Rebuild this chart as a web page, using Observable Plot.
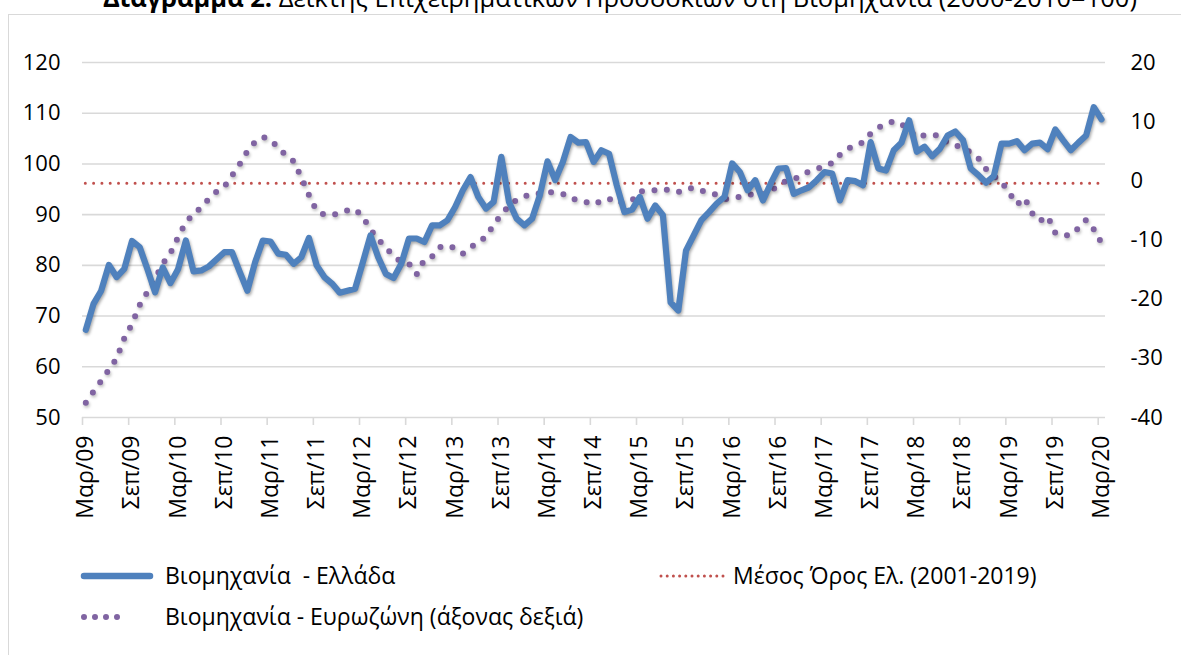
<!DOCTYPE html>
<html>
<head>
<meta charset="utf-8">
<script src="https://cdn.jsdelivr.net/npm/d3@7"></script>
<script src="https://cdn.jsdelivr.net/npm/@observablehq/plot@0.6"></script>
<style>
  html, body { margin: 0; padding: 0; background: #fff; }
  body { width: 1181px; height: 655px; overflow: hidden; position: relative; font-family: "Open Sans", sans-serif; }
  #frame { position: absolute; left: 8px; top: 14px; width: 1200px; height: 700px; border: 1px solid #D9D9D9; box-sizing: border-box; }
  #title { position: absolute; top: -20px; left: 0; width: 1240px; text-align: center; font-size: 25.5px; white-space: nowrap; color: #000; font-family: "Open Sans", sans-serif; }
  #chart { position: absolute; left: 0; top: 0; }
  g[stroke="#4F81BD"] { filter: drop-shadow(1px 2px 1.5px rgba(0,0,0,0.35)); }
  g[stroke="#8064A2"] { filter: drop-shadow(1px 2px 1.5px rgba(0,0,0,0.25)); }
  .leg { position: absolute; font-size: 23px; color: #000; white-space: nowrap; font-family: "Open Sans", sans-serif; }
  .sw { position: absolute; }
</style>
</head>
<body>
<div id="frame"></div>
<div id="title"><b>Διάγραμμα 2:</b> Δείκτης Επιχειρηματικών Προσδοκιών στη Βιομηχανία (2000-2010=100)</div>
<div id="chart"></div>

<svg class="sw" style="left:78px;top:566px" width="80" height="20"><line x1="6" y1="10" x2="72" y2="10" stroke="#4F81BD" stroke-width="6.5" stroke-linecap="round"/></svg>
<div class="leg" style="left:165px;top:559px">Βιομηχανία&nbsp; - Ελλάδα</div>
<svg class="sw" style="left:655px;top:566px" width="80" height="20"><line x1="6" y1="10" x2="68" y2="10" stroke="#C0504D" stroke-width="3" stroke-dasharray="0 6.2" stroke-linecap="round"/></svg>
<div class="leg" style="left:733px;top:559px">Μέσος Όρος Ελ. (2001-2019)</div>
<svg class="sw" style="left:76px;top:607px" width="80" height="20"><line x1="8" y1="10" x2="52" y2="10" stroke="#8064A2" stroke-width="6" stroke-dasharray="0 11" stroke-linecap="round"/></svg>
<div class="leg" style="left:165px;top:600px">Βιομηχανία - Ευρωζώνη (άξονας δεξιά)</div>

<script>
// Monthly data, Mar/2009 .. Mar/2020 (133 months)
const greece = [
  67.3,72.4,75.0,80.1,77.7,79.3,84.8,83.6,79.3,74.7,
  79.6,76.5,79.3,84.9,78.8,79.0,79.8,81.2,82.6,82.6,
  78.7,75.0,80.6,84.9,84.7,82.3,82.1,80.3,81.6,85.4,
  80.0,77.7,76.4,74.6,75.0,75.4,80.6,85.9,81.6,78.3,
  77.5,80.3,85.3,85.3,84.6,87.9,87.9,88.9,91.5,94.8,
  97.4,93.5,91.2,92.5,101.4,92.5,89.2,87.9,89.2,93.8,
  100.5,96.8,100.4,105.3,104.2,104.3,100.4,102.7,102.0,95.8,
  90.5,91.0,93.5,89.2,91.8,89.9,72.7,71.1,82.9,85.9,
  88.9,90.5,92.2,93.5,100.1,98.4,94.8,96.8,92.8,96.1,
  99.1,99.2,94.1,94.8,95.4,96.8,98.4,98.1,92.8,96.8,
  96.6,95.8,104.3,99.1,98.7,102.7,104.2,108.6,102.4,103.4,
  101.5,103.0,105.6,106.4,104.7,99.1,97.8,96.3,97.6,104.0,
  104.0,104.5,102.7,104.0,104.2,102.9,106.8,104.7,102.7,104.2,
  105.6,111.2,108.8
];
const eurozone = [
  -37.5,-35.6,-33.8,-31.9,-30.0,-26.6,-24.2,-21.0,-18.8,-16.5,
  -14.0,-12.2,-9.5,-7.0,-5.6,-4.5,-3.0,-1.8,-1.0,0.9,
  2.8,5.0,6.6,7.4,7.0,5.6,4.3,3.3,0.6,-2.4,
  -5.1,-5.7,-5.8,-5.4,-5.0,-4.8,-6.1,-8.2,-9.9,-11.3,
  -12.7,-13.7,-14.0,-15.8,-13.3,-12.8,-11.2,-10.9,-11.4,-12.3,
  -11.3,-10.3,-9.5,-7.4,-5.7,-4.2,-3.2,-2.6,-2.3,-2.1,
  -1.9,-2.0,-2.2,-3.0,-3.2,-3.6,-4.0,-3.4,-3.0,-3.8,
  -3.6,-3.3,-1.8,-1.7,-1.6,-1.4,-1.6,-1.9,-1.4,-1.2,
  -1.7,-1.9,-2.4,-3.1,-2.9,-2.7,-2.4,-2.2,-2.3,-1.7,
  -0.8,0.0,0.2,1.0,1.6,2.0,2.5,3.0,4.4,5.4,
  6.0,6.5,8.0,9.0,9.6,10.1,9.6,8.6,7.4,7.7,
  7.8,7.6,6.4,6.0,5.6,4.8,3.8,2.0,0.8,-0.2,
  -2.0,-4.0,-2.9,-5.5,-6.8,-6.0,-8.8,-9.2,-9.2,-8.0,
  -6.6,-8.2,-10.5
];
const meanGreece = 96.2;
const xTickLabels = ["Μαρ/09","Σεπ/09","Μαρ/10","Σεπ/10","Μαρ/11","Σεπ/11","Μαρ/12","Σεπ/12",
  "Μαρ/13","Σεπ/13","Μαρ/14","Σεπ/14","Μαρ/15","Σεπ/15","Μαρ/16","Σεπ/16","Μαρ/17","Σεπ/17",
  "Μαρ/18","Σεπ/18","Μαρ/19","Σεπ/19","Μαρ/20"];
const leftTicks = [50,60,70,80,90,100,110,120];
const rightTicks = [-40,-30,-20,-10,0,10,20];

// right axis (-40..20) mapped onto left axis (50..120)
const toLeft = r => 50 + (r + 40) * 70 / 60;
const fromLeft = v => Math.round((v - 50) * 60 / 70 - 40);

const months = greece.map((_, i) => i);
const gr = months.map(i => ({i, v: greece[i]}));
const ez = months.map(i => ({i, v: toLeft(eurozone[i])}));
const tickIdx = xTickLabels.map((_, k) => k * 6);

const W = 1181, H = 540;
const plot = Plot.plot({
  width: W, height: H,
  marginLeft: 82, marginRight: 76, marginTop: 62, marginBottom: 123,
  style: {fontFamily: "Open Sans, sans-serif", fontSize: "21px", color: "#000", background: "transparent", overflow: "visible"},
  x: {domain: [-0.43, 132.52], axis: null, label: null},
  y: {domain: [50, 120], axis: null, label: null},
  marks: [
    Plot.gridY(leftTicks, {stroke: "#D9D9D9", strokeOpacity: 1, strokeWidth: 1.6}),
    Plot.axisX(tickIdx.map(d => d - 0.43), {tickSize: 8, stroke: "#D9D9D9", strokeWidth: 1.6, tickFormat: () => "", label: null}),
    Plot.axisX(tickIdx, {tickSize: 0, tickRotate: -90, tickPadding: 18, fontSize: 23, label: null,
      tickFormat: d => xTickLabels[Math.round(d / 6)], fill: "#000"}),
    Plot.axisY(leftTicks, {anchor: "left", tickSize: 0, tickPadding: 22, fontSize: 22, label: null, fill: "#000"}),
    Plot.axisY(rightTicks.map(toLeft), {anchor: "right", tickSize: 0, tickPadding: 25, fontSize: 22, label: null,
      tickFormat: v => String(fromLeft(v)), fill: "#000"}),
    Plot.ruleY([meanGreece], {x1: 0, x2: 132, stroke: "#C0504D", strokeWidth: 3, strokeDasharray: "0 8.3", strokeLinecap: "round"}),
    Plot.line(ez, {x: "i", y: "v", stroke: "#8064A2", strokeWidth: 6, strokeDasharray: "0 12.5", strokeLinecap: "round"}),
    Plot.line(gr, {x: "i", y: "v", stroke: "#4F81BD", strokeWidth: 6.2, strokeLinejoin: "round", strokeLinecap: "round"})
  ]
});
document.getElementById("chart").appendChild(plot);
</script>
</body>
</html>
